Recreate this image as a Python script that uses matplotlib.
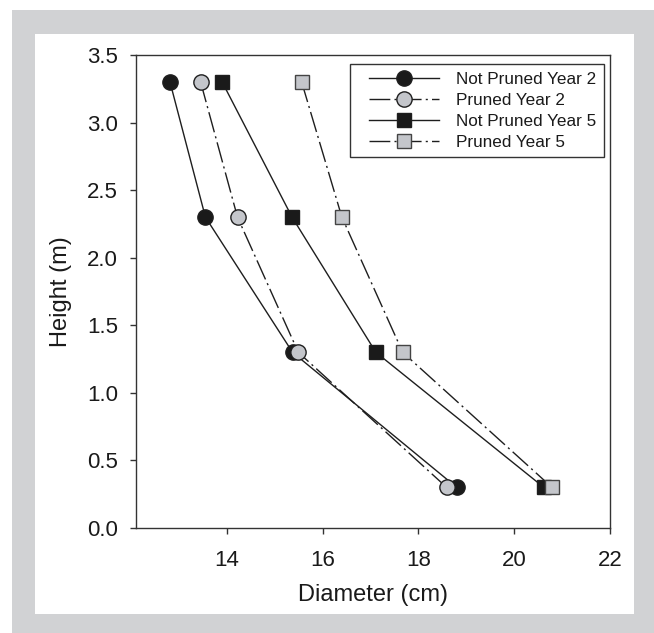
import matplotlib
matplotlib.use("Agg")
import matplotlib.pyplot as plt
from matplotlib.patches import Rectangle
from matplotlib.lines import Line2D
from matplotlib.legend_handler import HandlerLine2D

plt.rcParams['font.family'] = ['Liberation Sans', 'DejaVu Sans']

heights = [3.3, 2.3, 1.3, 0.3]
not_pruned_y2 = [12.81, 13.55, 15.37, 18.80]
pruned_y2 = [13.45, 14.22, 15.49, 18.59]
not_pruned_y5 = [13.90, 15.36, 17.11, 20.62]
pruned_y5 = [15.56, 16.40, 17.67, 20.79]
labels = ["Not Pruned Year 2", "Pruned Year 2", "Not Pruned Year 5", "Pruned Year 5"]
xticks = [14, 16, 18, 20, 22]
yticks = [0.0, 0.5, 1.0, 1.5, 2.0, 2.5, 3.0, 3.5]

W, H = 654, 633
fig = plt.figure(figsize=(W / 100, H / 100), dpi=100)
fig.patch.set_facecolor('white')

# gray frame
gray = '#d1d2d4'
fig.patches.append(Rectangle((12 / W, 0), 1 - 12 / W, 1 - 10 / H, transform=fig.transFigure,
                             facecolor=gray, edgecolor='none', zorder=-10))
fig.patches.append(Rectangle((35 / W, 1 - 614 / H), (634 - 35) / W, (614 - 34) / H,
                             transform=fig.transFigure, facecolor='white', edgecolor='none', zorder=-9))

ax = fig.add_axes([136 / W, 1 - 528 / H, (610 - 136) / W, (528 - 55) / H])
ax.set_facecolor('white')

dark = '#1e1e1e'
black_fill = '#1a1a1a'
gray_fill = '#c4c6cb'
dash = (0, (15, 3, 1.5, 3))

ax.plot(not_pruned_y2, heights, linestyle='-', color=dark, lw=1.0, marker='o', ms=11,
        mfc=black_fill, mec=dark, mew=1.0, label=labels[0])
ax.plot(pruned_y2, heights, linestyle=dash, color=dark, lw=1.0, marker='o', ms=11,
        mfc=gray_fill, mec=dark, mew=1.0, label=labels[1])
ax.plot(not_pruned_y5, heights, linestyle='-', color=dark, lw=1.0, marker='s', ms=9.5,
        mfc=black_fill, mec=dark, mew=1.0, label=labels[2])
ax.plot(pruned_y5, heights, linestyle=dash, color=dark, lw=1.0, marker='s', ms=9.5,
        mfc=gray_fill, mec='#444444', mew=1.0, label=labels[3])

ax.set_xlim(12.1, 22)
ax.set_ylim(0, 3.5)
ax.set_xticks(xticks)
ax.set_yticks(yticks)
ax.set_yticklabels([f"{v:.1f}" for v in yticks])
for s in ax.spines.values():
    s.set_color('#333333')
    s.set_linewidth(1.0)
ax.tick_params(direction='out', length=4, width=1, colors='#333333', labelsize=16,
               labelcolor='#1a1a1a')
ax.tick_params(axis='x', pad=12)
ax.tick_params(axis='y', pad=9)
ax.set_xlabel("Diameter (cm)", fontsize=17, color='#1a1a1a', labelpad=9)
ax.set_ylabel("Height (m)", fontsize=17, color='#1a1a1a', labelpad=11)

leg = ax.legend(loc='upper right', bbox_to_anchor=(0.987, 0.981), borderaxespad=0,
                fontsize=12.3, frameon=True, fancybox=False, handlelength=4.75,
                handletextpad=1.0, labelspacing=0.35, borderpad=0.45,
                handler_map={Line2D: HandlerLine2D(xpad=0.66)})
leg.get_frame().set_edgecolor('#333333')
leg.get_frame().set_linewidth(1.0)
leg.get_frame().set_alpha(1)
for t in leg.get_texts():
    t.set_color('#1a1a1a')

fig.savefig("out.png", dpi=100)
